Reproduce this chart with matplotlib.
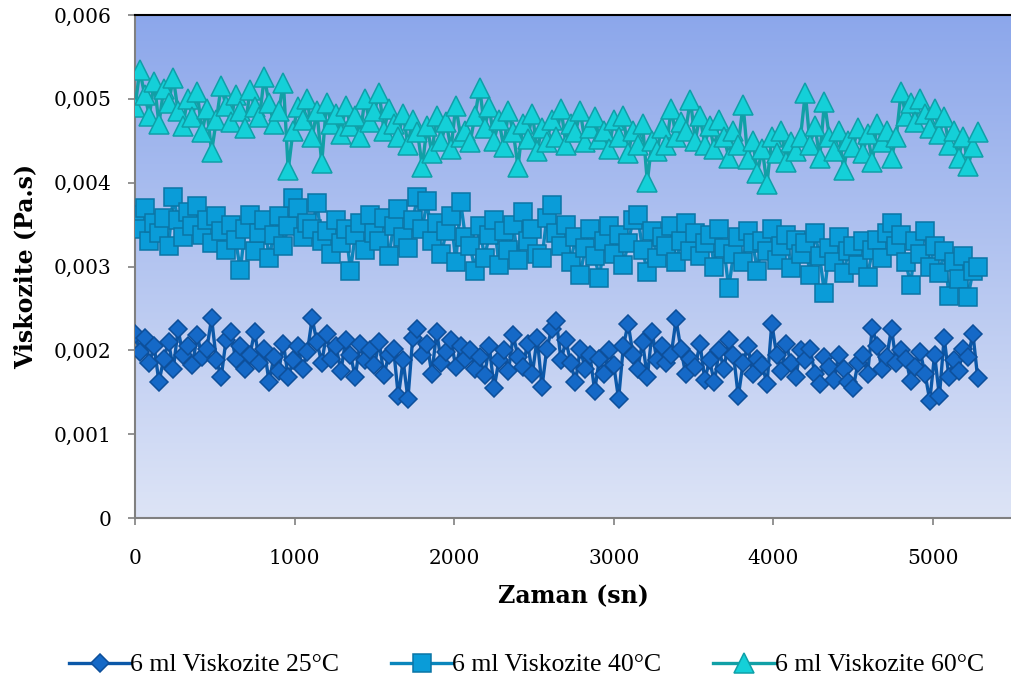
import numpy as np
import matplotlib
matplotlib.use("Agg")
import matplotlib.pyplot as plt
from matplotlib.ticker import FuncFormatter

# time axis (sn), one reading every 30 s
zaman = np.arange(0, 5281, 30)

# viscosity readings, in mPa.s (x1e-3 Pa.s)
visk_25 = [
    2.20, 1.98, 2.15, 1.85, 2.05, 1.62, 1.90, 2.10, 1.78, 2.25,
    1.95, 2.05, 1.82, 2.18, 1.92, 2.02, 2.38, 1.88, 1.68, 2.12,
    2.22, 1.90, 2.05, 1.78, 1.95, 2.22, 1.85, 2.02, 1.62, 1.92,
    1.75, 2.08, 1.68, 1.88, 2.05, 1.78, 1.98, 2.38, 2.10, 1.85,
    2.20, 1.90, 2.05, 1.75, 2.12, 1.95, 1.68, 2.08, 1.88, 2.00,
    1.82, 2.10, 1.70, 1.95, 2.02, 1.45, 1.88, 1.42, 2.15, 2.25,
    1.95, 2.08, 1.72, 2.22, 1.85, 1.98, 2.12, 1.80, 2.05, 1.90,
    2.00, 1.78, 1.92, 1.70, 2.05, 1.55, 1.88, 2.00, 1.75, 2.18,
    1.92, 1.80, 2.08, 1.72, 2.15, 1.56, 2.02, 2.25, 2.35, 1.88,
    2.12, 1.85, 1.62, 2.02, 1.78, 1.95, 1.52, 1.90, 1.72, 2.00,
    1.82, 1.42, 2.05, 2.32, 1.95, 1.78, 2.10, 1.68, 2.22, 1.88,
    2.05, 1.85, 1.95, 2.37, 2.02, 1.72, 1.90, 1.80, 2.08, 1.65,
    1.88, 1.62, 2.00, 1.78, 2.12, 1.95, 1.45, 1.85, 2.05, 1.72,
    1.90, 1.82, 1.60, 2.32, 1.95, 1.75, 2.08, 1.85, 1.68, 2.00,
    1.88, 2.02, 1.72, 1.60, 1.92, 1.80, 1.65, 1.95, 1.78, 1.62,
    1.55, 1.85, 1.95, 1.72, 2.27, 2.05, 1.78, 1.92, 2.26, 1.85,
    2.00, 1.90, 1.63, 1.80, 1.98, 1.72, 1.40, 1.95, 1.45, 2.15,
    1.68, 1.88, 1.75, 2.02, 1.92, 2.20, 1.67,
]
visk_40 = [
    3.62, 3.45, 3.70, 3.30, 3.52, 3.40, 3.58, 3.25, 3.83, 3.55,
    3.35, 3.65, 3.48, 3.72, 3.38, 3.55, 3.28, 3.60, 3.42, 3.20,
    3.50, 3.32, 2.96, 3.45, 3.62, 3.18, 3.40, 3.55, 3.10, 3.38,
    3.60, 3.25, 3.48, 3.82, 3.70, 3.35, 3.52, 3.45, 3.76, 3.30,
    3.42, 3.15, 3.55, 3.28, 3.45, 2.95, 3.38, 3.52, 3.20, 3.62,
    3.40, 3.30, 3.58, 3.12, 3.48, 3.68, 3.35, 3.22, 3.55, 3.83,
    3.45, 3.78, 3.30, 3.52, 3.15, 3.42, 3.60, 3.05, 3.77, 3.35,
    3.25, 2.95, 3.48, 3.10, 3.38, 3.55, 3.02, 3.42, 3.20, 3.50,
    3.08, 3.65, 3.30, 3.45, 3.15, 3.10, 3.58, 3.73, 3.40, 3.25,
    3.50, 3.05, 3.35, 2.90, 3.22, 3.45, 3.12, 2.86, 3.30, 3.48,
    3.15, 3.38, 3.02, 3.28, 3.55, 3.61, 3.20, 2.93, 3.42, 3.10,
    3.35, 3.25, 3.48, 3.05, 3.30, 3.52, 3.18, 3.40, 3.12, 3.28,
    3.38, 3.00, 3.45, 3.22, 2.74, 3.15, 3.35, 3.05, 3.42, 3.28,
    2.95, 3.30, 3.18, 3.45, 3.08, 3.25, 3.38, 2.98, 3.32, 3.15,
    3.28, 2.90, 3.40, 3.12, 2.68, 3.22, 3.05, 3.35, 2.92, 3.18,
    3.25, 3.02, 3.30, 2.88, 3.20, 3.32, 3.10, 3.40, 3.52, 3.25,
    3.38, 3.05, 2.78, 3.30, 3.15, 3.42, 3.00, 3.25, 2.92, 3.18,
    2.65, 3.05, 2.85, 3.12, 2.64, 2.95, 3.00,
]
visk_60 = [
    4.90, 5.34, 5.05, 4.80, 5.20, 4.70, 5.12, 4.95, 5.25, 4.85,
    4.68, 5.00, 4.78, 5.08, 4.60, 4.88, 4.37, 4.75, 5.15, 4.92,
    4.72, 5.05, 4.85, 4.65, 5.10, 4.90, 4.78, 5.26, 4.95, 4.70,
    4.85, 5.19, 4.15, 4.62, 4.90, 4.75, 5.00, 4.55, 4.85, 4.23,
    4.95, 4.70, 4.82, 4.58, 4.92, 4.68, 4.80, 4.55, 5.00, 4.72,
    4.85, 5.07, 4.62, 4.88, 4.70, 4.55, 4.82, 4.45, 4.75, 4.60,
    4.19, 4.68, 4.35, 4.80, 4.50, 4.72, 4.40, 4.92, 4.55, 4.62,
    4.48, 4.80, 5.13, 4.65, 4.90, 4.50, 4.75, 4.42, 4.85, 4.60,
    4.19, 4.70, 4.52, 4.82, 4.38, 4.65, 4.48, 4.75, 4.55, 4.88,
    4.45, 4.70, 4.60, 4.85, 4.48, 4.65, 4.78, 4.52, 4.62, 4.40,
    4.75, 4.55, 4.80, 4.35, 4.62, 4.45, 4.70, 4.01, 4.50, 4.38,
    4.65, 4.45, 4.88, 4.55, 4.72, 4.62, 4.99, 4.50, 4.80, 4.45,
    4.68, 4.40, 4.75, 4.55, 4.30, 4.62, 4.45, 4.93, 4.28, 4.50,
    4.12, 4.40, 3.98, 4.55, 4.35, 4.62, 4.25, 4.48, 4.38, 4.55,
    5.07, 4.45, 4.68, 4.30, 4.96, 4.55, 4.38, 4.62, 4.15, 4.50,
    4.42, 4.65, 4.35, 4.58, 4.25, 4.70, 4.48, 4.62, 4.30, 4.55,
    5.08, 4.80, 4.95, 4.72, 5.00, 4.82, 4.65, 4.88, 4.58, 4.78,
    4.45, 4.62, 4.30, 4.55, 4.20, 4.42, 4.60,
]

labels = ["6 ml Viskozite 25°C", "6 ml Viskozite 40°C", "6 ml Viskozite 60°C"]
y_ticks = [0, 0.001, 0.002, 0.003, 0.004, 0.005, 0.006]
x_ticks = [0, 1000, 2000, 3000, 4000, 5000]

# style for each series: marker, size, line colour, face, edge
styles = [
    ("D", 9.5, "#0b58a8", "#1569c7", "#0d4f9a"),
    ("s", 13.5, "#0a86bc", "#0a9cd8", "#0a75a6"),
    ("^", 14, "#11a0a6", "#14d0d8", "#0fa0a8"),
]

fig = plt.figure(figsize=(10.12, 6.84), dpi=100)
ax = fig.add_axes([135 / 1012, 1 - 518 / 684, 1 - 135 / 1012, 503 / 684])

# gradient background like the excel plot area (dark at top)
grad = np.linspace(0, 1, 256).reshape(-1, 1)
cmap = matplotlib.colors.LinearSegmentedColormap.from_list("bg", ["#8ca7eb", "#dde4f6"])
ax.imshow(grad, cmap=cmap, aspect="auto", extent=[0, 1, 0, 1],
          transform=ax.transAxes, zorder=0)

handles = []
for vals, lab, (m, ms, lc, fc, ec) in zip([visk_25, visk_40, visk_60], labels, styles):
    v = np.array(vals) * 1e-3
    h, = ax.plot(zaman, v, color=lc, lw=2.4, marker=m, markersize=ms,
                 markerfacecolor=fc, markeredgecolor=ec, markeredgewidth=1.1,
                 label=lab, zorder=3)
    handles.append(h)

ax.set_xlim(0, 5495)
ax.set_ylim(0, 0.006)
ax.set_xticks(x_ticks)
ax.set_yticks(y_ticks)
ax.yaxis.set_major_formatter(FuncFormatter(
    lambda v, p: "0" if v == 0 else ("%.3f" % v).replace(".", ",")))

for s in ["left", "bottom"]:
    ax.spines[s].set_color("#808080")
    ax.spines[s].set_linewidth(1.5)
ax.spines["top"].set_color("black")
ax.spines["top"].set_linewidth(1.5)
ax.spines["right"].set_visible(False)

ax.tick_params(axis="both", direction="out", length=5, width=1.2, color="#808080",
               labelsize=14.5)
ax.tick_params(axis="y", pad=12)
ax.tick_params(axis="x", pad=17)
for t in ax.get_xticklabels() + ax.get_yticklabels():
    t.set_family("DejaVu Serif")

ax.set_ylabel("Viskozite (Pa.s)", fontsize=17, fontweight="bold",
              family="DejaVu Serif", labelpad=12)
ax.set_xlabel("Zaman (sn)", fontsize=17, fontweight="bold",
              family="DejaVu Serif", labelpad=12)

fig.legend(handles=handles, loc="center", bbox_to_anchor=(0.52, 1 - 665 / 684),
           ncol=3, frameon=False, prop={"family": "Liberation Serif", "size": 18.5},
           handlelength=2.4, handletextpad=0.0, columnspacing=2.0)

fig.savefig("out.png", dpi=100)
